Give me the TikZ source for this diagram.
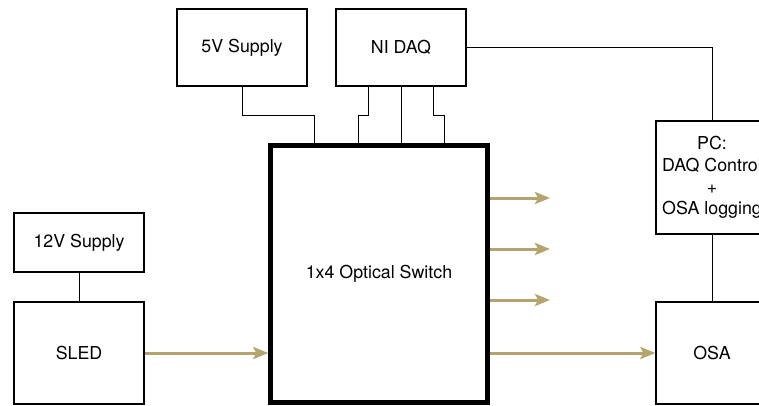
\documentclass[tikz,border=0pt]{standalone}
\usepackage{fontspec}
\setmainfont{TeX Gyre Heros}
\usepackage{xcolor}
\usetikzlibrary{arrows.meta, positioning}
\definecolor{beamgold}{RGB}{181,164,110}

\begin{document}
\begin{tikzpicture}[x=1pt, y=-1pt,
    box/.style={draw, line width=1.2pt, minimum width=130pt, inner sep=0pt,
        font=\fontsize{17.8}{21.7}\selectfont, align=center},
    wire/.style={line width=0.75pt},
    beam/.style={-{Stealth[length=15pt,width=12pt,inset=3pt]}, beamgold, line width=3pt}]
    \useasboundingbox (0,0) rectangle (759,405);
    \clip (0,0) rectangle (759,405);

    % Supplies and DAQ
    \node[box, minimum height=77pt] (sup5) at (242,47.5) {5V Supply};
    \node[box, minimum height=77pt] (daq) at (401,47.5) {NI DAQ};
    \node[box, minimum height=59pt] (sup12) at (79,242.5) {12V Supply};

    % Source, switch, analyser and PC
    \node[box, minimum height=102pt] (sled) at (79,353) {SLED};
    \node[box, line width=4.5pt, minimum width=217pt, minimum height=257pt] (sw) at (379,274) {1x4 Optical Switch};
    \node[box, minimum width=112pt, minimum height=102pt] (osa) at (712,353) {OSA};
    \node[box, minimum width=112pt, minimum height=113pt] (pc) at (712,177.5) {PC:\\DAQ Control\\+\\OSA logging};

    % Control wiring
    \coordinate (in5) at (314,143);
    \coordinate (in1) at (358,143);
    \coordinate (in3) at (444,143);
    \draw[wire] (sup5.south) -- ++(0,29) -| (in5);
    \draw[wire] ([xshift=-33pt]daq.south) -- ++(0,29) -| (in1);
    \draw[wire] (daq.south) -- (daq.south |- sw.north);
    \draw[wire] ([xshift=32pt]daq.south) -- ++(0,29) -| (in3);
    \draw[wire] (daq.east) -| (pc.north);
    \draw[wire] (sup12) -- (sled);
    \draw[wire] (pc) -- (osa);

    % Optical paths
    \draw[beam] (sled.east) -- (sled.east -| sw.west);
    \foreach \y [count=\i] in {198,249,300} {
        \coordinate (out\i) at (550,\y);
        \draw[beam] (sw.east |- out\i) -- (out\i);
    }
    \draw[beam] (sw.east |- osa.west) -- (osa.west);
\end{tikzpicture}
\end{document}
